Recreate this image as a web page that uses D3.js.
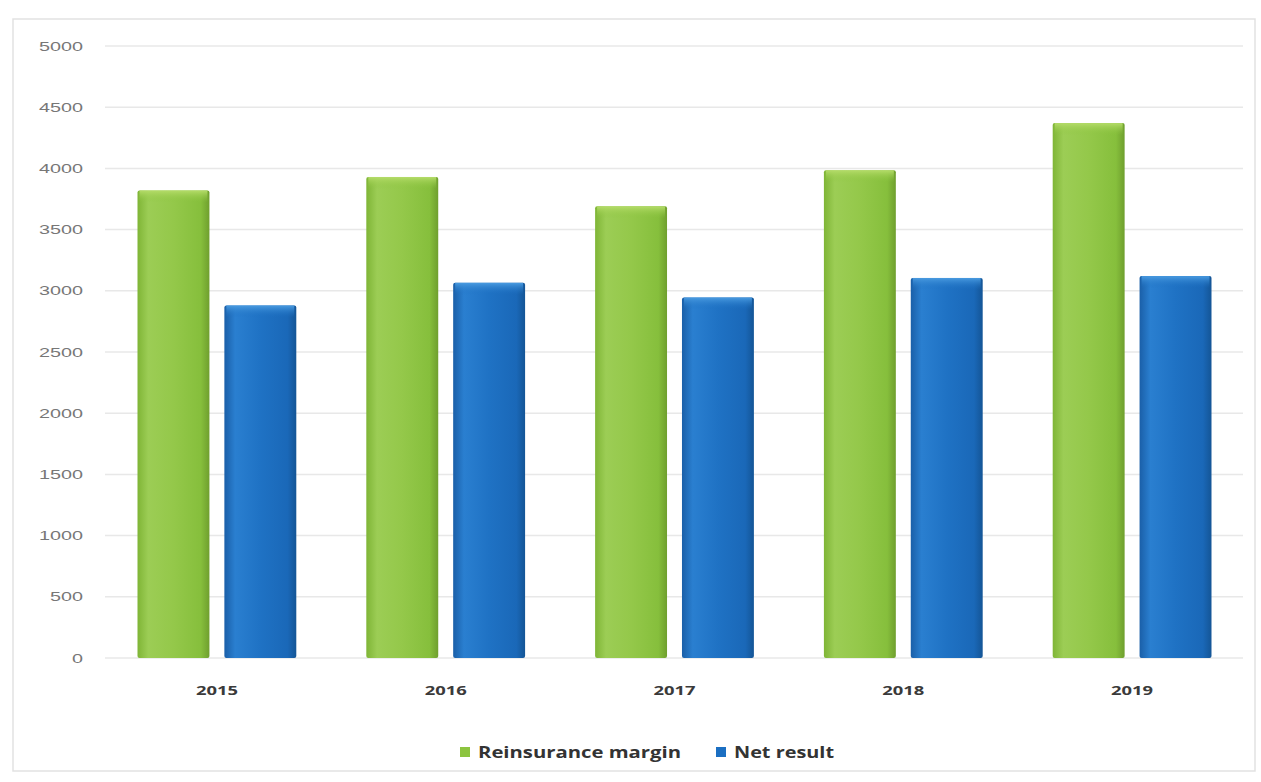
<!DOCTYPE html>
<html><head><meta charset="utf-8">
<script src="https://cdn.jsdelivr.net/npm/d3@7"></script>
<style>body{margin:0;background:#fff;}svg{display:block;}</style>
</head><body>
<script>
const categories = ["2015","2016","2017","2018","2019"];
const seriesNames = ["Reinsurance margin","Net result"];
const reinsuranceMargin = [3820, 3930, 3690, 3985, 4370];
const netResult = [2880, 3065, 2945, 3105, 3120];
const yTicks = [0,500,1000,1500,2000,2500,3000,3500,4000,4500,5000];
const colors = ["#8cc43f","#1b6fc2"];

const W=1261,H=782;
const svg=d3.select("body").append("svg").attr("width",W).attr("height",H);
const defs=svg.append("defs");
const gradStops=[
  [["0%","#7fb536"],["15%","#9ccd55"],["50%","#94c84a"],["88%","#86bf3c"],["100%","#6f9f2e"]],
  [["0%","#1a5fa8"],["15%","#2a7fd0"],["50%","#1f72c4"],["88%","#1a68b8"],["100%","#145596"]]
];
gradStops.forEach((st,i)=>{
  const g=defs.append("linearGradient").attr("id","g"+i).attr("x1","0").attr("x2","1").attr("y1","0").attr("y2","0");
  st.forEach(s=>g.append("stop").attr("offset",s[0]).attr("stop-color",s[1]));
});
const topStops=[["#b5dc6a","#8cc43f"],["#4a9be0","#1b6fc2"]];
topStops.forEach((s,i)=>{
  const g=defs.append("linearGradient").attr("id","t"+i).attr("x1","0").attr("x2","0").attr("y1","0").attr("y2","1");
  g.append("stop").attr("offset","0%").attr("stop-color",s[0]);
  g.append("stop").attr("offset","100%").attr("stop-color",s[1]).attr("stop-opacity",0);
});

// frame
svg.append("rect").attr("x",13).attr("y",19).attr("width",1242).attr("height",752)
  .attr("fill","#fff").attr("stroke","#e2e2e2").attr("stroke-width",1.5);

const x0=d3.scaleBand().domain(categories).range([102.5,1246.5]).paddingInner(0.306).paddingOuter(0.153);
const x1=d3.scaleBand().domain(seriesNames).range([0,x0.bandwidth()]).paddingInner(0.172);
const y=d3.scaleLinear().domain([0,5000]).range([658,46]);

// grid
svg.append("g").selectAll("line").data(yTicks).join("line")
  .attr("x1",105).attr("x2",1243).attr("y1",d=>y(d)).attr("y2",d=>y(d))
  .attr("stroke","#e8e8e8").attr("stroke-width",1.5);

// y axis
const yAxis=svg.append("g").attr("transform","translate(83,0)")
  .call(d3.axisLeft(y).tickValues(yTicks).tickFormat(d3.format("d")).tickSize(0).tickPadding(0));
yAxis.select(".domain").remove();
yAxis.selectAll("text").attr("font-family","Liberation Sans, Arial, sans-serif").attr("font-size",13).attr("fill","#777")
  .attr("textLength",d=>String(d).length*11).attr("lengthAdjust","spacingAndGlyphs");

// x axis
const xAxis=svg.append("g").attr("transform","translate(0,686)")
  .call(d3.axisBottom(x0).tickSize(0).tickPadding(0));
xAxis.select(".domain").remove();
xAxis.selectAll("text").attr("font-family","Open Sans, DejaVu Sans, sans-serif").attr("font-weight","bold").attr("font-size",13).attr("fill","#3a3a3a")
  .attr("textLength",42).attr("lengthAdjust","spacingAndGlyphs");

// bars
const data=categories.map((c,i)=>({c,vals:[reinsuranceMargin[i],netResult[i]]}));
const groups=svg.append("g").selectAll("g").data(data).join("g")
  .attr("transform",d=>`translate(${x0(d.c)},0)`);
groups.selectAll("rect.bar").data(d=>d.vals.map((v,i)=>({v,i,s:seriesNames[i]}))).join("rect")
  .attr("class","bar")
  .attr("x",d=>x1(d.s)).attr("width",x1.bandwidth())
  .attr("y",d=>y(d.v)).attr("height",d=>y(0)-y(d.v))
  .attr("rx",2).attr("fill",d=>`url(#g${d.i})`);
groups.selectAll("rect.top").data(d=>d.vals.map((v,i)=>({v,i,s:seriesNames[i]}))).join("rect")
  .attr("class","top")
  .attr("x",d=>x1(d.s)+2).attr("width",x1.bandwidth()-4)
  .attr("y",d=>y(d.v)).attr("height",12)
  .attr("fill",d=>`url(#t${d.i})`);

// legend
const legend=svg.append("g").attr("transform","translate(0,752)");
const legX=[460,716];
const legLen=[203,100];
seriesNames.forEach((n,i)=>{
  legend.append("rect").attr("x",legX[i]).attr("y",-5).attr("width",10).attr("height",10).attr("fill",colors[i]);
  legend.append("text").attr("x",legX[i]+18).attr("y",0).attr("dy","0.35em")
    .attr("font-family","Open Sans, DejaVu Sans, sans-serif").attr("font-weight","bold").attr("font-size",16)
    .attr("fill","#333").attr("textLength",legLen[i]).attr("lengthAdjust","spacingAndGlyphs").text(n);
});
</script>
</body></html>
